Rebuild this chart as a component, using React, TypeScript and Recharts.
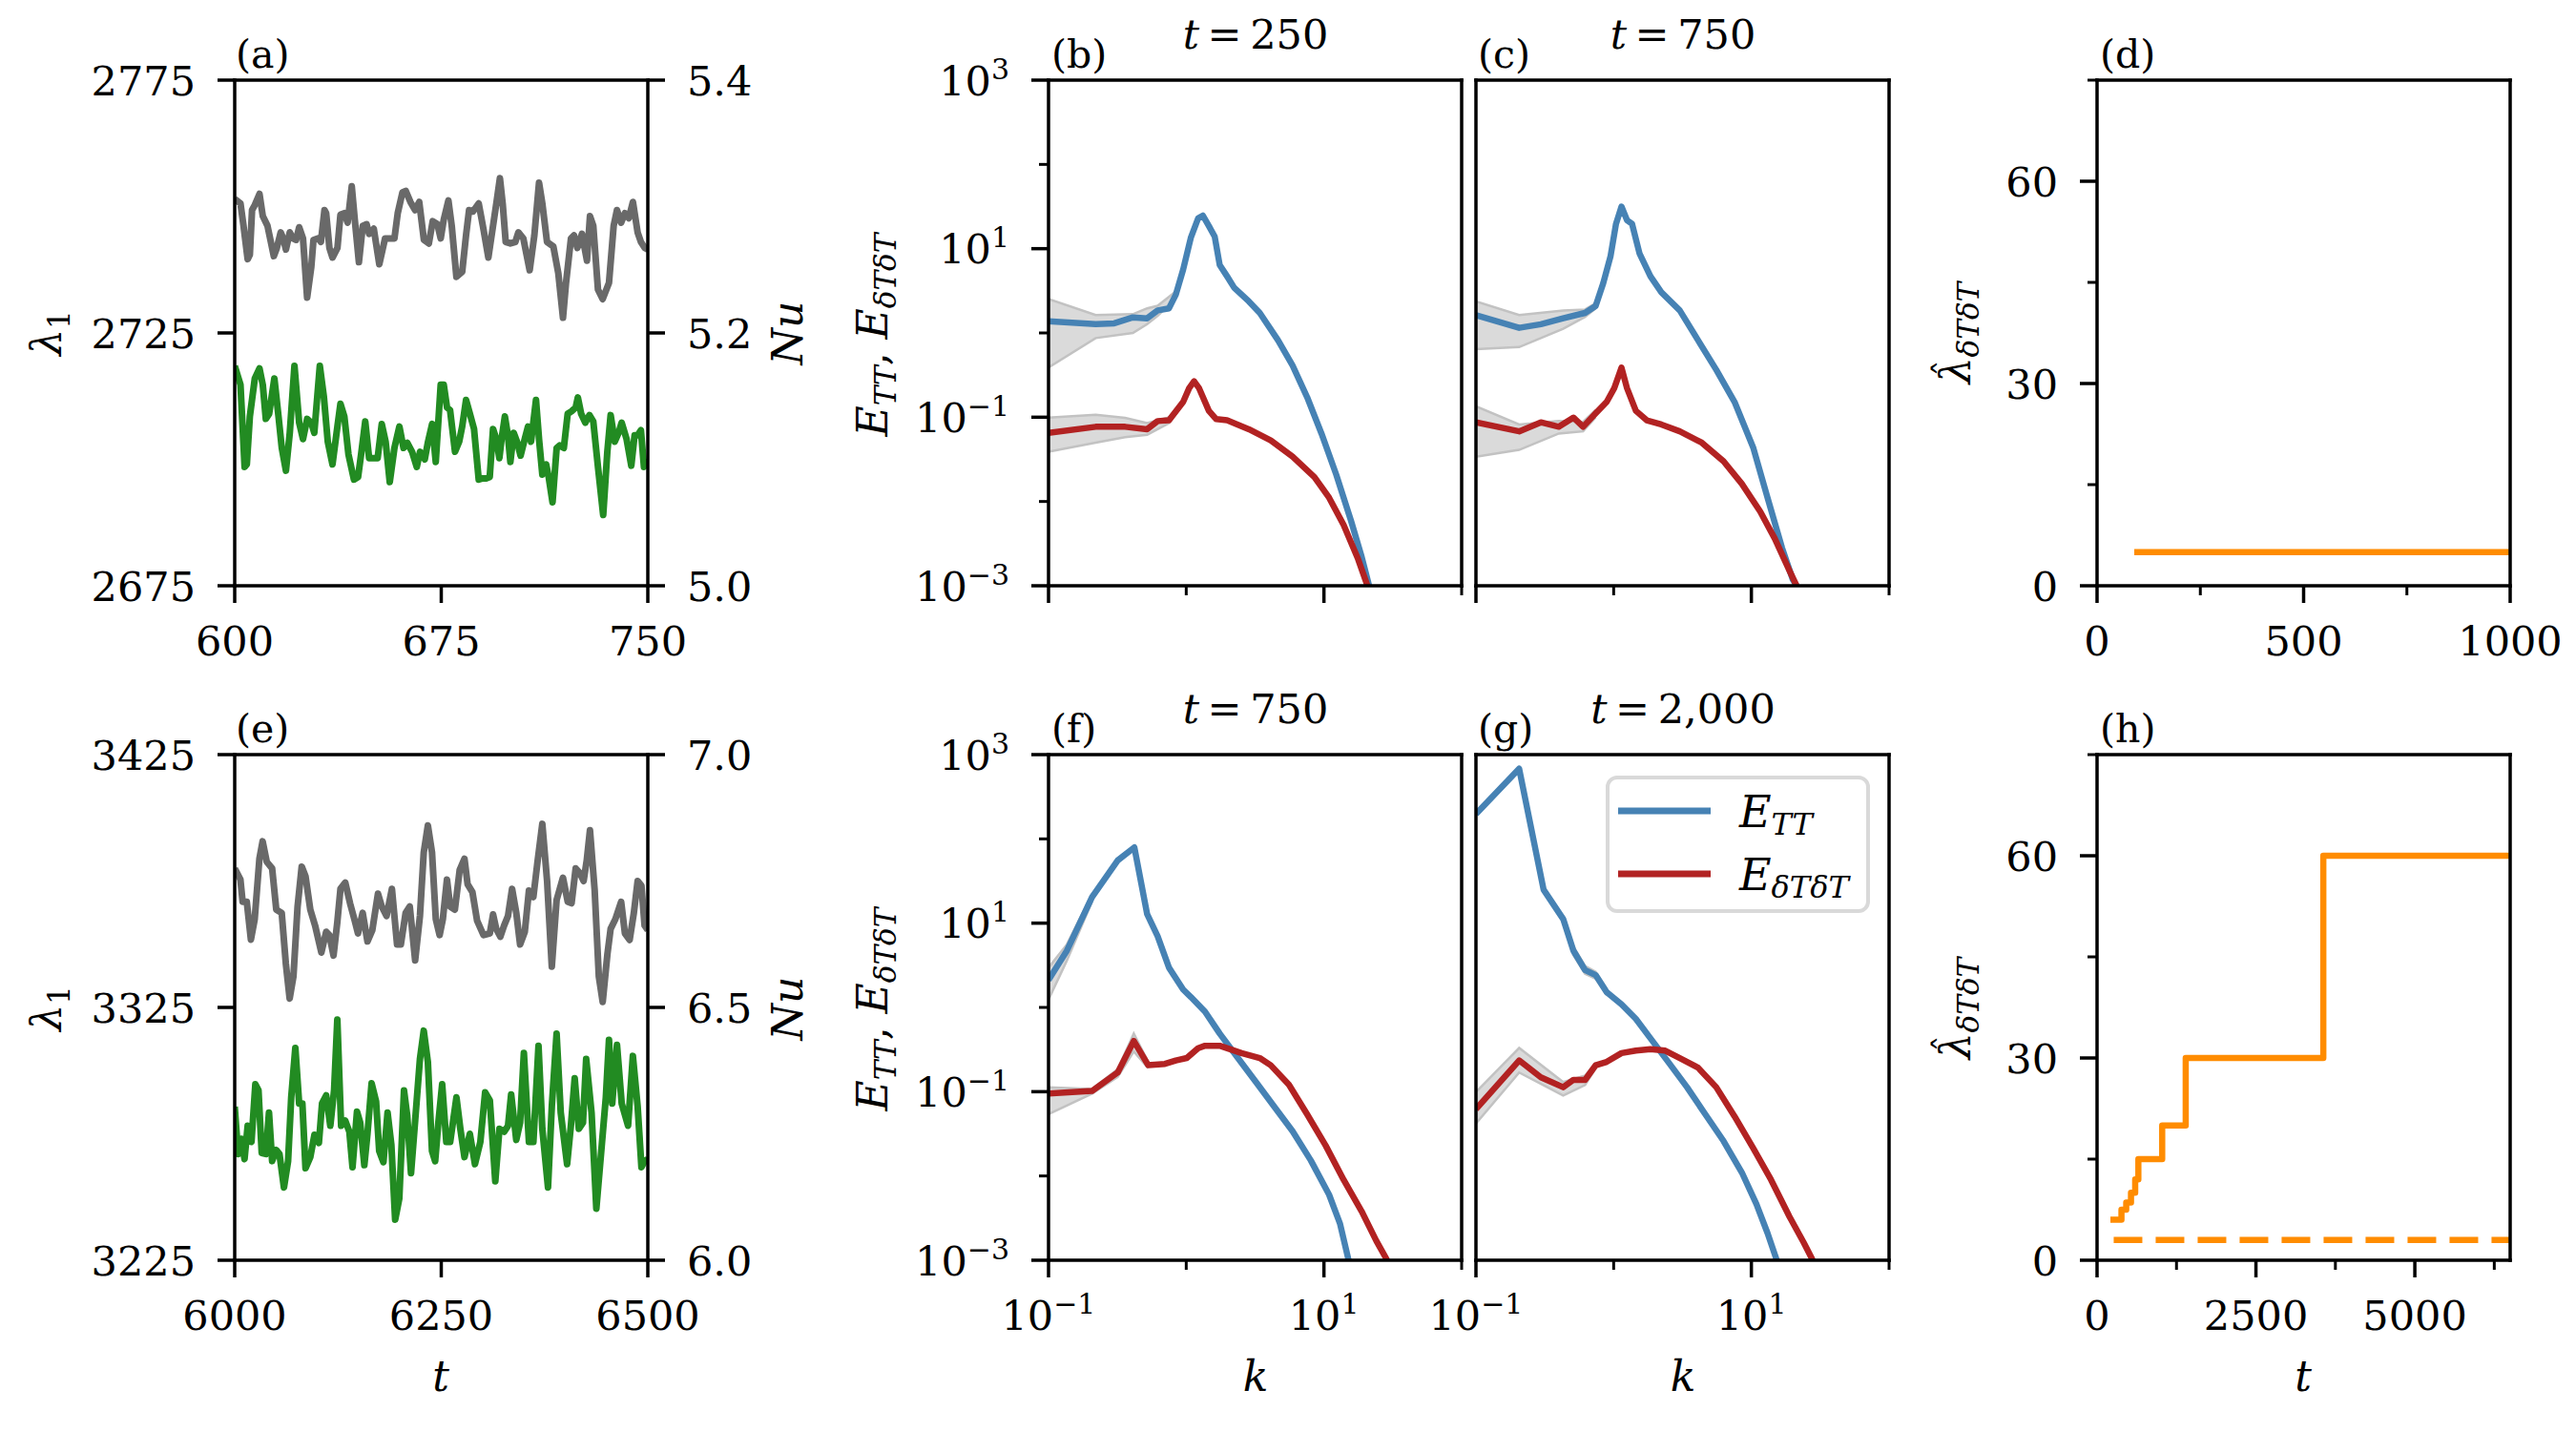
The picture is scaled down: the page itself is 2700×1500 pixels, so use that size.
import React from 'react';
import { ComposedChart, Line, Area, XAxis, YAxis, Legend } from 'recharts';

// ---------------- data ----------------
// (a) lambda_1 (grey, left axis) and Nu (green, right axis), t in [600, 750]
const A_GRAY_T = [600.0,602.1,603.2,604.7,605.5,606.3,607.3,609.0,610.2,611.9,614.2,615.3,616.7,617.6,618.6,620.0,621.1,622.3,623.4,624.8,626.3,627.8,628.6,630.3,631.3,632.6,633.2,634.4,635.5,637.3,638.4,639.8,641.0,642.5,643.6,645.1,646.5,647.9,648.8,650.5,652.5,654.6,656.3,658.0,659.2,660.9,662.1,663.8,665.5,667.0,668.7,670.5,671.9,673.6,674.8,675.9,677.6,678.8,680.5,682.6,684.0,685.1,686.5,688.6,690.3,692.1,693.8,695.0,696.3,697.3,698.4,700.1,701.9,703.0,704.8,707.1,708.8,710.5,711.7,713.4,715.7,717.5,719.2,720.3,722.1,723.2,724.4,726.1,727.9,729.0,730.2,731.9,733.6,735.9,737.6,738.8,740.3,741.7,743.1,744.6,746.3,747.5,748.9,750.0];
const A_GRAY_V = [2751.5,2750.6,2746.2,2739.6,2740.5,2749.3,2750.3,2752.5,2748.1,2746.2,2740.2,2741.8,2744.9,2743.7,2741.5,2744.9,2743.7,2743.4,2745.9,2743.7,2732.0,2738.0,2743.4,2743.7,2743.0,2749.3,2748.7,2741.8,2739.9,2741.8,2748.4,2748.7,2746.8,2754.0,2747.4,2739.0,2746.2,2746.5,2744.6,2745.6,2738.6,2743.7,2743.7,2743.7,2748.7,2752.8,2753.1,2750.9,2749.3,2750.9,2743.4,2742.7,2747.1,2746.5,2743.7,2747.4,2751.2,2746.2,2736.1,2737.1,2744.3,2749.3,2749.0,2750.6,2745.6,2739.9,2746.2,2750.6,2755.6,2750.6,2743.0,2742.7,2743.0,2744.9,2743.7,2737.4,2744.3,2754.7,2750.6,2743.0,2742.1,2736.8,2728.0,2734.9,2743.7,2744.3,2741.8,2744.6,2739.3,2748.1,2746.2,2733.6,2731.7,2734.9,2746.2,2749.3,2746.8,2748.7,2747.7,2750.9,2744.9,2743.0,2741.8,2741.5];
const A_GREEN_T = [600.0,602.1,603.6,604.4,605.5,607.3,609.0,610.2,611.3,612.5,614.4,615.9,617.1,618.6,620.0,621.7,623.4,624.8,626.3,627.8,628.9,630.9,632.4,633.8,635.5,637.3,638.4,639.8,641.3,643.3,644.8,645.9,647.4,648.8,650.5,651.9,653.4,654.8,656.3,658.0,659.8,661.3,662.7,664.4,666.1,667.3,669.0,670.2,671.7,673.0,674.8,675.9,677.1,678.2,680.0,681.5,682.6,684.0,685.4,686.9,688.6,690.0,691.5,692.6,693.8,695.0,696.1,696.9,698.1,699.2,700.1,701.3,702.5,703.8,705.3,706.5,707.6,709.4,710.5,711.7,713.1,714.0,715.4,716.9,718.0,719.5,720.9,722.3,723.8,724.6,725.8,727.3,728.8,730.2,731.9,733.8,735.3,736.5,738.0,739.4,740.5,742.3,744.0,745.2,746.3,747.5,748.6,750.0];
const A_GREEN_V = [5.174,5.159,5.094,5.096,5.134,5.164,5.172,5.159,5.132,5.136,5.164,5.134,5.109,5.091,5.121,5.174,5.129,5.116,5.132,5.129,5.121,5.174,5.149,5.114,5.096,5.126,5.144,5.134,5.104,5.084,5.086,5.104,5.130,5.101,5.101,5.101,5.128,5.114,5.082,5.109,5.126,5.109,5.113,5.106,5.094,5.106,5.100,5.114,5.128,5.098,5.159,5.159,5.141,5.139,5.106,5.114,5.126,5.147,5.136,5.124,5.084,5.085,5.085,5.086,5.124,5.116,5.101,5.116,5.134,5.119,5.098,5.121,5.114,5.103,5.116,5.126,5.114,5.147,5.116,5.088,5.096,5.086,5.066,5.109,5.111,5.109,5.136,5.138,5.141,5.149,5.136,5.129,5.135,5.130,5.094,5.056,5.106,5.135,5.114,5.121,5.129,5.116,5.095,5.119,5.119,5.123,5.094,5.100];

// (e) lambda_1 (grey) and Nu (green), t in [6000, 6500]
const E_GRAY_T = [6000,6006.9,6009.6,6014.6,6019.6,6024.2,6029.9,6033.8,6038.8,6045.3,6050.3,6056.9,6061.9,6066.5,6071.1,6076.1,6081.1,6085.7,6091.5,6097.3,6104.9,6110.7,6114.6,6119.6,6124.2,6128.0,6133.8,6139.6,6145.3,6149.2,6154.9,6160.7,6166.5,6173.4,6178.0,6183.8,6190.3,6196.5,6201.1,6206.9,6211.9,6218.4,6224.2,6228.8,6233.8,6238.8,6243.4,6248.0,6251.9,6256.9,6260.8,6266.5,6272.3,6278.1,6281.9,6287.7,6293.4,6301.1,6308.8,6312.7,6316.5,6321.5,6326.1,6330.8,6335.7,6340.8,6345.4,6351.1,6356.1,6361.5,6366.5,6372.3,6378.1,6383.8,6389.6,6397.3,6403.1,6407.7,6412.7,6417.7,6422.3,6426.1,6430.0,6435.7,6440.7,6445.4,6451.1,6455.0,6460.7,6467.7,6472.3,6478.0,6483.1,6487.7,6492.3,6496.1,6500];
const E_GRAY_V = [3380.0,3375.6,3366.8,3366.8,3351.8,3359.9,3383.8,3390.7,3382.6,3380.0,3363.7,3362.4,3342.3,3328.5,3337.3,3364.9,3380.7,3376.9,3363.7,3357.4,3346.7,3354.9,3353.6,3345.5,3358.7,3371.9,3374.4,3366.2,3359.3,3354.3,3362.4,3351.1,3355.5,3370.0,3364.9,3361.2,3371.9,3349.9,3349.9,3362.4,3364.9,3343.6,3361.2,3386.3,3397.0,3386.3,3359.9,3353.6,3359.9,3375.6,3364.9,3363.7,3379.4,3383.8,3373.7,3370.6,3359.3,3353.6,3354.3,3361.8,3356.1,3353.0,3357.4,3361.2,3371.9,3362.4,3349.9,3354.9,3371.2,3368.7,3382.6,3397.6,3375.0,3341.1,3367.5,3376.3,3366.8,3366.2,3380.0,3378.2,3375.0,3383.2,3395.1,3371.2,3337.3,3327.2,3346.1,3356.1,3359.9,3366.8,3354.3,3351.7,3362.4,3375.0,3373.1,3357.4,3355.5];
const E_GREEN_T = [6000,6004.2,6008.0,6011.9,6015.7,6020.3,6025.0,6028.8,6032.7,6037.7,6041.5,6045.3,6050.3,6054.2,6059.6,6064.6,6068.4,6073.4,6078.0,6081.9,6085.7,6091.5,6096.5,6101.9,6105.7,6110.7,6115.7,6120.3,6124.2,6128.8,6133.8,6138.8,6142.6,6148.0,6151.9,6156.9,6160.7,6165.7,6171.1,6174.9,6180.0,6185.0,6189.6,6194.2,6199.2,6204.9,6208.8,6213.4,6218.4,6224.2,6228.8,6233.8,6238.8,6242.6,6246.5,6251.1,6256.1,6260.8,6268.4,6273.1,6278.1,6284.6,6290.8,6297.3,6303.1,6308.8,6315.4,6320.4,6326.1,6330.8,6334.6,6340.8,6345.4,6350.0,6356.1,6361.5,6367.7,6372.3,6379.2,6383.8,6389.6,6394.6,6402.3,6406.9,6411.5,6416.5,6421.5,6425.4,6431.9,6437.7,6444.6,6449.2,6453.0,6456.9,6462.7,6468.4,6476.1,6481.9,6487.7,6492.3,6496.1,6500];
const E_GREEN_V = [6.304,6.21,6.24,6.2,6.266,6.234,6.348,6.336,6.212,6.21,6.292,6.196,6.218,6.21,6.144,6.196,6.322,6.42,6.31,6.31,6.182,6.204,6.248,6.232,6.31,6.326,6.266,6.336,6.476,6.266,6.276,6.254,6.184,6.294,6.272,6.188,6.25,6.35,6.314,6.216,6.194,6.292,6.228,6.08,6.122,6.336,6.286,6.172,6.276,6.398,6.454,6.392,6.216,6.196,6.272,6.348,6.234,6.234,6.322,6.26,6.204,6.25,6.19,6.234,6.332,6.316,6.156,6.26,6.254,6.266,6.328,6.238,6.272,6.41,6.234,6.234,6.424,6.26,6.144,6.304,6.448,6.292,6.19,6.266,6.36,6.26,6.272,6.398,6.292,6.102,6.234,6.322,6.436,6.31,6.426,6.31,6.266,6.404,6.304,6.184,6.196,6.2];

// spectra (b) t = 250
const B_TT_K = [0.1,0.22,0.30,0.41,0.52,0.62,0.75,0.84,0.95,1.08,1.22,1.32,1.46,1.61,1.75,1.98,2.23,2.85,3.42,4.64,5.92,7.55,9.6,12.3,15.7,18.8,21.3];
const B_TT_E = [1.38,1.27,1.30,1.53,1.49,1.85,1.96,2.85,5.66,13.5,22.9,24.7,18.6,13.9,6.4,4.7,3.44,2.37,1.73,0.82,0.41,0.173,0.064,0.0207,0.00596,0.0022,0.001];
const B_DD_K = [0.1,0.22,0.36,0.52,0.62,0.75,0.95,1.05,1.14,1.24,1.46,1.65,1.98,2.85,4.11,5.92,8.53,10.9,13.9,17.7,20.7];
const B_DD_E = [0.065,0.077,0.077,0.072,0.090,0.092,0.152,0.221,0.267,0.221,0.119,0.095,0.092,0.072,0.053,0.034,0.0195,0.0111,0.00526,0.00207,0.001];
const B_TT_BK = [0.1,0.22,0.41,0.52,0.62,0.84];
const B_TT_LO = [0.39,0.87,1.0,1.27,1.6,2.6];
const B_TT_HI = [2.52,1.63,1.67,1.96,2.1,3.1];
const B_DD_BK = [0.1,0.22,0.36,0.52,0.75,0.95];
const B_DD_LO = [0.039,0.050,0.058,0.062,0.085,0.145];
const B_DD_HI = [0.099,0.107,0.098,0.085,0.100,0.160];

// spectra (c) t = 750
const C_TT_K = [0.1,0.206,0.296,0.43,0.62,0.74,0.84,0.95,1.04,1.14,1.25,1.36,1.54,1.85,2.22,3.02,4.1,5.56,7.55,10.3,13.1,16.7,20.0,21.3];
const C_TT_E = [1.63,1.15,1.27,1.49,1.73,2.09,3.89,8.2,19.7,31.6,21.8,19.7,8.8,4.7,3.04,1.85,0.82,0.365,0.152,0.0439,0.0111,0.00282,0.00118,0.001];
const C_DD_K = [0.1,0.206,0.296,0.40,0.51,0.60,0.74,0.89,1.01,1.14,1.25,1.45,1.74,2.22,3.02,4.36,6.28,8.53,11.6,14.8,18.9,21.3];
const C_DD_E = [0.087,0.068,0.087,0.077,0.099,0.077,0.111,0.152,0.221,0.388,0.221,0.119,0.092,0.082,0.068,0.050,0.030,0.0162,0.0076,0.00362,0.00151,0.001];
const C_TT_BK = [0.1,0.206,0.43,0.62,0.74];
const C_TT_LO = [0.64,0.68,1.12,1.55,1.95];
const C_TT_HI = [2.37,1.63,1.85,1.9,2.25];
const C_DD_BK = [0.1,0.206,0.40,0.60,0.74];
const C_DD_LO = [0.034,0.041,0.064,0.068,0.100];
const C_DD_HI = [0.135,0.082,0.090,0.088,0.122];

// spectra (f) t = 750
const F_TT_K = [0.1,0.136,0.207,0.318,0.42,0.52,0.62,0.75,0.95,1.08,1.37,1.75,2.38,3.22,4.37,5.92,8.03,10.9,13.1,15.1];
const F_TT_E = [2.12,4.72,20.4,55.5,79.4,12.8,7.0,2.96,1.63,1.33,0.89,0.49,0.25,0.129,0.066,0.034,0.0153,0.0060,0.0027,0.001];
const F_DD_K = [0.1,0.207,0.318,0.416,0.53,0.70,0.84,1.01,1.22,1.37,1.75,2.52,3.42,4.11,5.57,7.55,10.3,13.9,18.8,24.0,28.8];
const F_DD_E = [0.095,0.102,0.169,0.40,0.206,0.214,0.235,0.251,0.328,0.351,0.351,0.287,0.251,0.206,0.121,0.054,0.0229,0.0090,0.0038,0.0017,0.001];
const F_TT_BK = [0.1,0.136,0.207];
const F_TT_LO = [1.24,3.6,18];
const F_TT_HI = [2.96,5.6,22];
const F_DD_BK = [0.1,0.207,0.318,0.416,0.53];
const F_DD_LO = [0.054,0.095,0.15,0.30,0.19];
const F_DD_HI = [0.113,0.108,0.185,0.49,0.225];

// spectra (g) t = 2,000
const G_TT_K = [0.1,0.206,0.31,0.43,0.51,0.62,0.74,0.89,1.14,1.45,1.85,2.52,3.41,4.63,6.28,8.53,10.9,13.1,15.3];
const G_TT_E = [197,680,24.9,11.2,4.72,2.77,2.42,1.52,1.09,0.73,0.43,0.22,0.113,0.054,0.026,0.011,0.0046,0.0021,0.001];
const G_DD_K = [0.1,0.206,0.296,0.43,0.51,0.62,0.74,0.89,1.14,1.45,1.85,2.37,3.02,4.1,5.56,7.55,10.3,13.9,18.9,24.1,27.9];
const G_DD_E = [0.062,0.235,0.148,0.113,0.138,0.138,0.206,0.226,0.287,0.307,0.32,0.307,0.251,0.193,0.113,0.051,0.0214,0.0090,0.0033,0.0016,0.001];
const G_TT_BK = [0.43,0.51,0.62,0.74,0.89];
const G_TT_LO = [10.2,4.2,2.5,2.2,1.4];
const G_TT_HI = [12.3,5.3,3.1,2.65,1.65];
const G_DD_BK = [0.1,0.206,0.43,0.62,0.74];
const G_DD_LO = [0.042,0.169,0.09,0.12,0.19];
const G_DD_HI = [0.099,0.33,0.13,0.155,0.22];

// (d) and (h) lambda-hat
const D_T = [90, 1000];
const D_V = [5, 5];
const H_T = [210, 384, 459, 534, 600, 650, 1025, 1395, 3560, 6500];
const H_V = [6, 7.5, 8.57, 10, 12, 15, 20, 30, 60, 60];
const H_DASH_T = [262, 6500];
const H_DASH_V = [3, 3];

// ticks
const A_XTICKS = [600, 675, 750];
const A_LTICKS = [2675, 2725, 2775];
const A_RTICKS = [5.0, 5.2, 5.4];
const E_XTICKS = [6000, 6250, 6500];
const E_LTICKS = [3225, 3325, 3425];
const E_RTICKS = [6.0, 6.5, 7.0];
const K_TICKS = [0.1, 1, 10, 100];
const S_TICKS = [0.001, 0.01, 0.1, 1, 10, 100, 1000];
const D_XTICKS = [0, 250, 500, 750, 1000];
const D_XMAJOR = [0, 500, 1000];
const H_XTICKS = [0, 1250, 2500, 3750, 5000, 6250];
const H_XMAJOR = [0, 2500, 5000];
const L_YTICKS = [0, 15, 30, 45, 60, 75];
const L_YMAJOR = [0, 30, 60];

// ---------------- helpers ----------------
const pairs = (xs: number[], ys: number[], kx: string, ky: string) => {
  const n = Math.min(xs.length, ys.length);
  const out: any[] = [];
  for (let i = 0; i < n; i++) out.push({ [kx]: xs[i], [ky]: ys[i] });
  return out;
};
const band = (ks: number[], lo: number[], hi: number[]) => {
  const n = Math.min(ks.length, lo.length, hi.length);
  const out: any[] = [];
  for (let i = 0; i < n; i++) out.push({ k: ks[i], r: [lo[i], hi[i]] });
  return out;
};

const SERIF = "'DejaVu Serif', serif";
const FS = 43;
const PW = 433, PH = 530;
const OUT = { top: 60, right: 190, bottom: 110, left: 190 }; // space around plot area
const M = { top: OUT.top - 1, right: OUT.right - 1, bottom: OUT.bottom - 1, left: OUT.left - 1 }; // axes are 1px thick
const AX: any = { stroke: '#000', strokeWidth: 3.5, strokeLinecap: 'square' };
const MAJ = 18, MIN = 10, PAD = 41;

const isIn = (arr: number[]) => (v: number) => arr.some((m) => Math.abs(m - v) < 1e-6);
const expOf = (v: number) => Math.round(Math.log10(v));
const oddExp = (v: number) => Math.abs(expOf(v)) % 2 === 1;
const pow10 = (v: number) => {
  const e = expOf(v);
  return (
    <>
      <tspan>10</tspan>
      <tspan dy={-17} fontSize={30}>{e < 0 ? '\u2212' + -e : String(e)}</tspan>
    </>
  );
};

type Side = 'left' | 'right' | 'bottom';
function makeTick(side: Side, major: (v: number) => boolean, label?: (v: number) => React.ReactNode) {
  return (p: any) => {
    const x = p.x, y = p.y;
    const v = p.payload ? p.payload.value : 0;
    const mj = major(v);
    const len = mj ? MAJ : MIN;
    const sw = mj ? 3.5 : 3;
    const lab = mj && label ? label(v) : null;
    if (side === 'left') {
      return (
        <g>
          <line x1={x} x2={x - len} y1={y} y2={y} stroke="#000" strokeWidth={sw} />
          {lab != null && (
            <text x={x - PAD} y={y + 15.5} textAnchor="end" fontSize={FS} fontFamily={SERIF} fill="#000">{lab}</text>
          )}
        </g>
      );
    }
    if (side === 'right') {
      return (
        <g>
          <line x1={x} x2={x + len} y1={y} y2={y} stroke="#000" strokeWidth={sw} />
          {lab != null && (
            <text x={x + PAD} y={y + 15.5} textAnchor="start" fontSize={FS} fontFamily={SERIF} fill="#000">{lab}</text>
          )}
        </g>
      );
    }
    return (
      <g>
        <line x1={x} x2={x} y1={y} y2={y + len} stroke="#000" strokeWidth={sw} />
        {lab != null && (
          <text x={x} y={y + 73} textAnchor="middle" fontSize={FS} fontFamily={SERIF} fill="#000">{lab}</text>
        )}
      </g>
    );
  };
}

const XB: any = { height: 1, tickSize: 0, tickMargin: 0, tickLine: false, axisLine: AX, interval: 0, allowDataOverflow: true };
const YB: any = { width: 1, tickSize: 0, tickMargin: 0, tickLine: false, axisLine: AX, interval: 0, allowDataOverflow: true };
const LINE: any = { type: 'linear', dot: false, activeDot: false, isAnimationActive: false, strokeLinejoin: 'round', strokeLinecap: 'butt' };

const C_GRAY = '#696969', C_GREEN = '#228B22', C_BLUE = '#4682B4', C_RED = '#B22222', C_ORANGE = '#FF8C00';

const wrapStyle = (left: number, top: number): React.CSSProperties => ({ position: 'absolute', left: left - OUT.left, top: top - OUT.top });
const CW = PW + OUT.left + OUT.right, CH = PH + OUT.top + OUT.bottom;

// ---------------- panels ----------------
function TimePanel(props: { left: number; top: number; xd: [number, number]; xt: number[]; ld: [number, number]; lt: number[]; rd: [number, number]; rt: number[]; gray: any[]; green: any[] }) {
  const { left, top, xd, xt, ld, lt, rd, rt, gray, green } = props;
  return (
    <div style={wrapStyle(left, top)}>
      <ComposedChart width={CW} height={CH} margin={M}>
        <XAxis dataKey="t" type="number" domain={xd} ticks={xt} {...XB} tick={makeTick('bottom', () => true, (v) => String(v))} />
        <XAxis xAxisId="top" dataKey="t" orientation="top" type="number" domain={xd} {...XB} tick={false} />
        <YAxis yAxisId="l" type="number" domain={ld} ticks={lt} {...YB} tick={makeTick('left', () => true, (v) => String(v))} />
        <YAxis yAxisId="r" orientation="right" type="number" domain={rd} ticks={rt} {...YB} tick={makeTick('right', () => true, (v) => v.toFixed(1))} />
        <Line {...LINE} yAxisId="l" data={gray} dataKey="v" stroke={C_GRAY} strokeWidth={7} name="lambda1" />
        <Line {...LINE} yAxisId="r" data={green} dataKey="v" stroke={C_GREEN} strokeWidth={7} name="Nu" />
      </ComposedChart>
    </div>
  );
}

const legendLabel = (name: string) => (
  <>
    <tspan fontStyle="italic">E</tspan>
    <tspan fontStyle="italic" fontSize={32} dy={8}>{name === 'E_TT' ? 'TT' : 'δTδT'}</tspan>
  </>
);

function LegendBox(props: any) {
  const items = (props.payload || []).filter((e: any) => e.type !== 'none');
  return (
    <svg width={277} height={144} style={{ display: 'block' }}>
      <rect x={2} y={2} width={273} height={140} rx={10} ry={10} fill="#fff" fillOpacity={0.8} stroke="#d9d9d9" strokeWidth={4} />
      {items.map((e: any, i: number) => (
        <g key={i}>
          <line x1={13} x2={110} y1={37 + i * 66} y2={37 + i * 66} stroke={e.color} strokeWidth={7} />
          <text x={140} y={54 + i * 66} fontFamily={SERIF} fontSize={46} fill="#000">{legendLabel(String(e.value))}</text>
        </g>
      ))}
    </svg>
  );
}

function SpecPanel(props: { left: number; top: number; tt: any[]; dd: any[]; ttb: any[]; ddb: any[]; yLabels: boolean; xLabels: boolean; legend?: boolean }) {
  const { left, top, tt, dd, ttb, ddb, yLabels, xLabels, legend } = props;
  return (
    <div style={wrapStyle(left, top)}>
      <ComposedChart width={CW} height={CH} margin={M}>
        <XAxis dataKey="k" type="number" scale="log" domain={[0.1, 100]} ticks={K_TICKS} {...XB} tick={makeTick('bottom', oddExp, xLabels ? pow10 : undefined)} />
        <XAxis xAxisId="top" dataKey="k" orientation="top" type="number" scale="log" domain={[0.1, 100]} ticks={K_TICKS} {...XB} tick={false} />
        <YAxis yAxisId="l" type="number" scale="log" domain={[0.001, 1000]} ticks={S_TICKS} {...YB} tick={yLabels ? makeTick('left', oddExp, pow10) : false} />
        <YAxis yAxisId="r" orientation="right" type="number" domain={[0, 1]} ticks={[0, 1]} {...YB} tick={false} />
        <Area yAxisId="l" data={ttb} dataKey="r" type="linear" stroke="#c2c2c2" strokeWidth={2.5} fill="#d4d4d4" fillOpacity={0.85} isAnimationActive={false} legendType="none" dot={false} activeDot={false} />
        <Area yAxisId="l" data={ddb} dataKey="r" type="linear" stroke="#c2c2c2" strokeWidth={2.5} fill="#d4d4d4" fillOpacity={0.85} isAnimationActive={false} legendType="none" dot={false} activeDot={false} />
        <Line {...LINE} yAxisId="l" data={tt} dataKey="e" stroke={C_BLUE} strokeWidth={6.5} name="E_TT" />
        <Line {...LINE} yAxisId="l" data={dd} dataKey="e" stroke={C_RED} strokeWidth={6.5} name="E_dTdT" />
        {legend && (
          <Legend layout="vertical" align="center" verticalAlign="middle" content={LegendBox as any}
            wrapperStyle={{ left: 1683 - (left - OUT.left), top: 813 - (top - OUT.top), width: 277, height: 144 }} />
        )}
      </ComposedChart>
    </div>
  );
}

function LambdaPanel(props: { left: number; top: number; xd: [number, number]; xt: number[]; xm: number[]; solid: any[]; dashed?: any[]; step: boolean }) {
  const { left, top, xd, xt, xm, solid, dashed, step } = props;
  return (
    <div style={wrapStyle(left, top)}>
      <ComposedChart width={CW} height={CH} margin={M}>
        <XAxis dataKey="t" type="number" domain={xd} ticks={xt} {...XB} tick={makeTick('bottom', isIn(xm), (v) => String(v))} />
        <XAxis xAxisId="top" dataKey="t" orientation="top" type="number" domain={xd} ticks={xt} {...XB} tick={false} />
        <YAxis yAxisId="l" type="number" domain={[0, 75]} ticks={L_YTICKS} {...YB} tick={makeTick('left', isIn(L_YMAJOR), (v) => String(v))} />
        <YAxis yAxisId="r" orientation="right" type="number" domain={[0, 1]} ticks={[0, 1]} {...YB} tick={false} />
        {dashed && <Line {...LINE} yAxisId="l" data={dashed} dataKey="v" stroke={C_ORANGE} strokeWidth={6.5} strokeDasharray="30 14" name="lambda-dash" />}
        <Line {...LINE} type={step ? 'stepAfter' : 'linear'} yAxisId="l" data={solid} dataKey="v" stroke={C_ORANGE} strokeWidth={6.5} name="lambda-hat" />
      </ComposedChart>
    </div>
  );
}

// ---------------- text overlay ----------------
function Overlay() {
  const rotL = (cx: number, cy: number) => `translate(${cx + 15},${cy}) rotate(-90)`;
  const ELabel = (cx: number, cy: number) => (
    <text transform={rotL(cx, cy)} textAnchor="middle" fontSize={44}>
      <tspan fontStyle="italic">E</tspan>
      <tspan fontStyle="italic" fontSize={31} dy={9}>TT</tspan>
      <tspan dy={-9}>, </tspan>
      <tspan fontStyle="italic">E</tspan>
      <tspan fontStyle="italic" fontSize={31} dy={9}>δTδT</tspan>
    </text>
  );
  const LamLabel = (cx: number, cy: number) => (
    <text transform={rotL(cx, cy)} textAnchor="middle" fontSize={44}>
      <tspan fontStyle="italic">λ</tspan>
      <tspan fontSize={31} dy={9}>1</tspan>
    </text>
  );
  const HatLabel = (cx: number, cy: number) => (
    <g transform={rotL(cx, cy)}>
      <text textAnchor="middle" fontSize={44}>
        <tspan fontStyle="italic">λ</tspan>
        <tspan fontStyle="italic" fontSize={31} dy={9}>δTδT</tspan>
      </text>
      <text x={-37} y={-13} textAnchor="middle" fontSize={36}>ˆ</text>
    </g>
  );
  const NuLabel = (cx: number, cy: number) => (
    <text transform={rotL(cx, cy)} textAnchor="middle" fontSize={44} fontStyle="italic">Nu</text>
  );
  const Title = (cx: number, y: number, val: string) => (
    <text x={cx} y={y} textAnchor="middle" fontSize={43}>
      <tspan fontStyle="italic">t</tspan>
      <tspan>{'\u2009=\u2009' + val}</tspan>
    </text>
  );
  const Letter = (x: number, y: number, s: string) => (
    <text x={x} y={y} fontSize={41}>{s}</text>
  );
  return (
    <svg width={2700} height={1500} style={{ position: 'absolute', left: 0, top: 0, pointerEvents: 'none' }} fontFamily={SERIF} fill="#000">
      {Letter(247, 71, '(a)')}
      {Letter(1102, 71, '(b)')}
      {Letter(1549, 71, '(c)')}
      {Letter(2201, 71, '(d)')}
      {Letter(247, 778, '(e)')}
      {Letter(1102, 778, '(f)')}
      {Letter(1549, 778, '(g)')}
      {Letter(2201, 778, '(h)')}
      {Title(1316, 51, '250')}
      {Title(1764, 51, '750')}
      {Title(1316, 758, '750')}
      {Title(1764, 758, '2,000')}
      {LamLabel(49, 349)}
      {LamLabel(49, 1057)}
      {NuLabel(826, 349)}
      {NuLabel(826, 1057)}
      {ELabel(915, 351)}
      {ELabel(915, 1058)}
      {HatLabel(2050, 349)}
      {HatLabel(2050, 1057)}
      <text x={462} y={1458} textAnchor="middle" fontSize={44} fontStyle="italic">t</text>
      <text x={1316} y={1458} textAnchor="middle" fontSize={44} fontStyle="italic">k</text>
      <text x={1764} y={1458} textAnchor="middle" fontSize={44} fontStyle="italic">k</text>
      <text x={2414} y={1458} textAnchor="middle" fontSize={44} fontStyle="italic">t</text>
    </svg>
  );
}

// ---------------- app ----------------
export default function App() {
  const aGray = pairs(A_GRAY_T, A_GRAY_V, 't', 'v');
  const aGreen = pairs(A_GREEN_T, A_GREEN_V, 't', 'v');
  const eGray = pairs(E_GRAY_T, E_GRAY_V, 't', 'v');
  const eGreen = pairs(E_GREEN_T, E_GREEN_V, 't', 'v');
  const COL = [246, 1099, 1547, 2198];
  const ROW = [84, 791];
  return (
    <div style={{ position: 'absolute', left: 0, top: 0, width: 2700, height: 1500, background: '#fff', overflow: 'hidden' }}>
      <TimePanel left={COL[0]} top={ROW[0]} xd={[600, 750]} xt={A_XTICKS} ld={[2675, 2775]} lt={A_LTICKS} rd={[5.0, 5.4]} rt={A_RTICKS} gray={aGray} green={aGreen} />
      <TimePanel left={COL[0]} top={ROW[1]} xd={[6000, 6500]} xt={E_XTICKS} ld={[3225, 3425]} lt={E_LTICKS} rd={[6.0, 7.0]} rt={E_RTICKS} gray={eGray} green={eGreen} />
      <SpecPanel left={COL[1]} top={ROW[0]} tt={pairs(B_TT_K, B_TT_E, 'k', 'e')} dd={pairs(B_DD_K, B_DD_E, 'k', 'e')} ttb={band(B_TT_BK, B_TT_LO, B_TT_HI)} ddb={band(B_DD_BK, B_DD_LO, B_DD_HI)} yLabels xLabels={false} />
      <SpecPanel left={COL[2]} top={ROW[0]} tt={pairs(C_TT_K, C_TT_E, 'k', 'e')} dd={pairs(C_DD_K, C_DD_E, 'k', 'e')} ttb={band(C_TT_BK, C_TT_LO, C_TT_HI)} ddb={band(C_DD_BK, C_DD_LO, C_DD_HI)} yLabels={false} xLabels={false} />
      <SpecPanel left={COL[1]} top={ROW[1]} tt={pairs(F_TT_K, F_TT_E, 'k', 'e')} dd={pairs(F_DD_K, F_DD_E, 'k', 'e')} ttb={band(F_TT_BK, F_TT_LO, F_TT_HI)} ddb={band(F_DD_BK, F_DD_LO, F_DD_HI)} yLabels xLabels />
      <SpecPanel left={COL[2]} top={ROW[1]} tt={pairs(G_TT_K, G_TT_E, 'k', 'e')} dd={pairs(G_DD_K, G_DD_E, 'k', 'e')} ttb={band(G_TT_BK, G_TT_LO, G_TT_HI)} ddb={band(G_DD_BK, G_DD_LO, G_DD_HI)} yLabels={false} xLabels legend />
      <LambdaPanel left={COL[3]} top={ROW[0]} xd={[0, 1000]} xt={D_XTICKS} xm={D_XMAJOR} solid={pairs(D_T, D_V, 't', 'v')} step={false} />
      <LambdaPanel left={COL[3]} top={ROW[1]} xd={[0, 6500]} xt={H_XTICKS} xm={H_XMAJOR} solid={pairs(H_T, H_V, 't', 'v')} dashed={pairs(H_DASH_T, H_DASH_V, 't', 'v')} step />
      <Overlay />
    </div>
  );
}
